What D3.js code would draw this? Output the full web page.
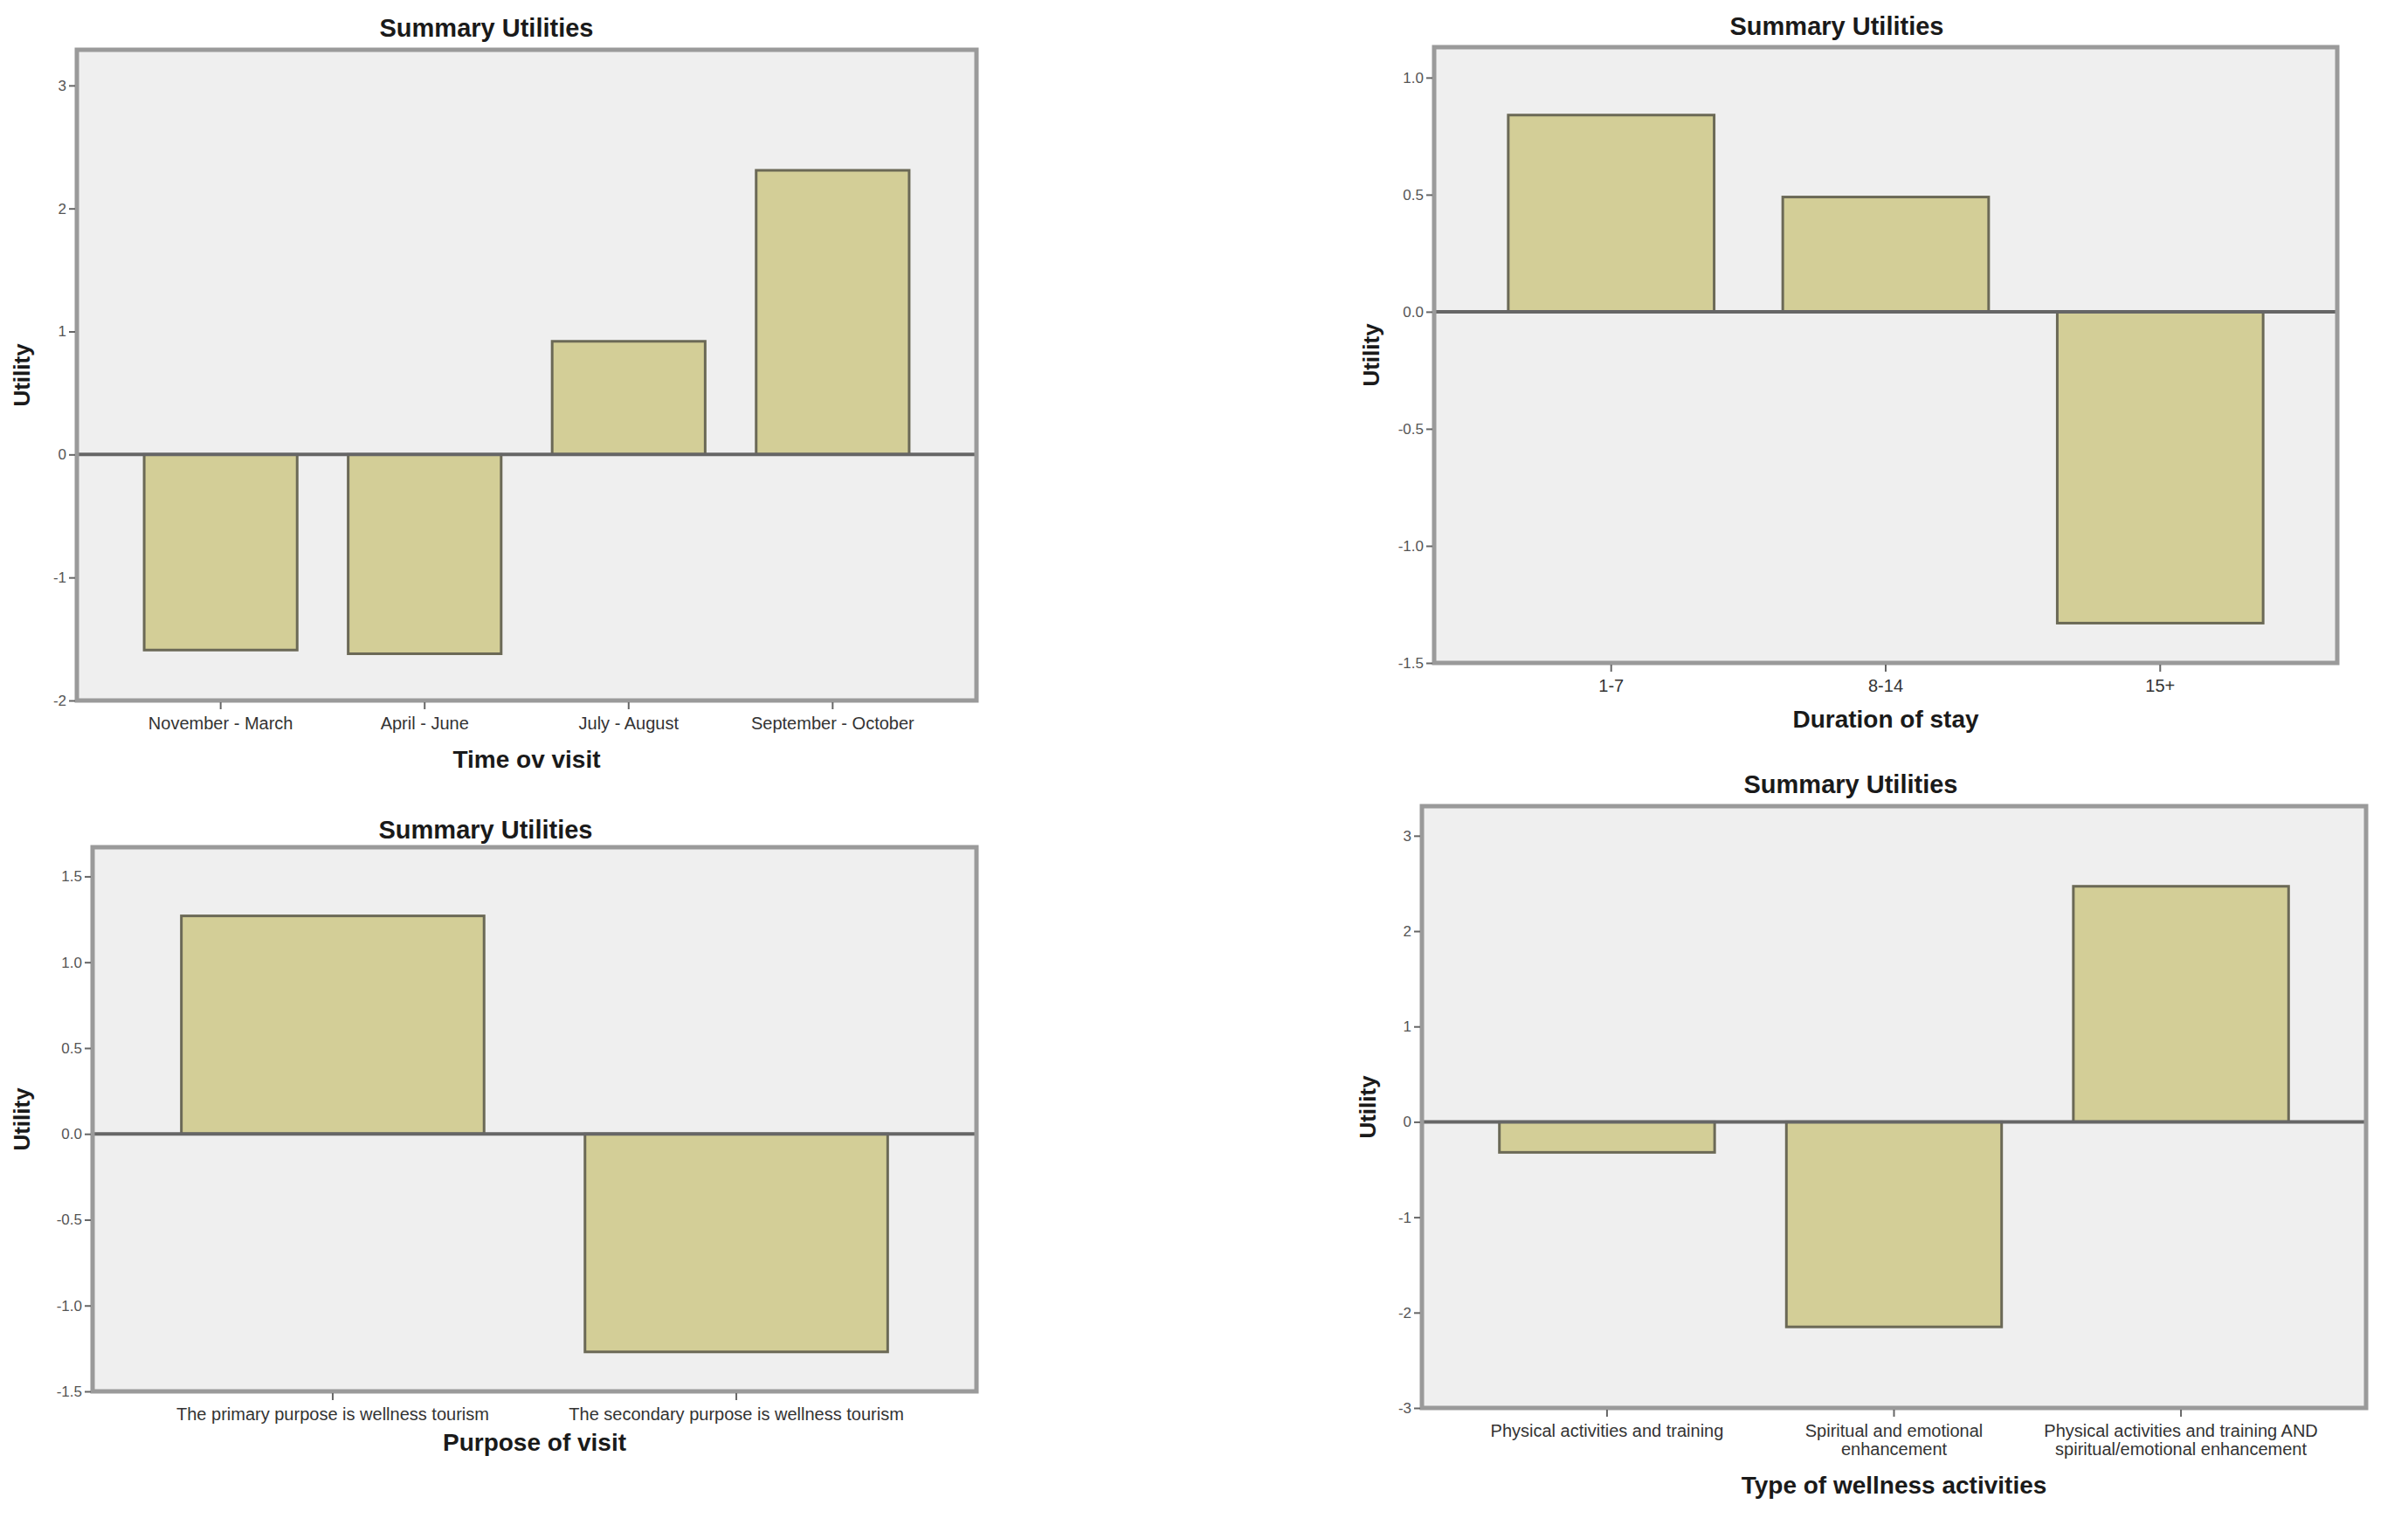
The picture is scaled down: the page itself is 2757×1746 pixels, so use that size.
<!DOCTYPE html>
<html lang="en">
<head>
    <meta charset="UTF-8">
    <title>Summary Utilities</title>
    <script src="https://d3js.org/d3.v7.min.js"></script>
    <style>
        body { margin: 0; background: #fff; }
        text { font-family: "Liberation Sans", Arial, sans-serif; }
        .title { font-size: 29px; font-weight: bold; fill: #1a1a1a; }
        .axis-title { font-size: 28px; font-weight: bold; fill: #1a1a1a; }
        .y-label { font-size: 26px; font-weight: bold; fill: #1a1a1a; }
        .y-axis text { font-size: 17px; fill: #555; }
        .x-axis text { font-size: 20px; fill: #333; }
        .tick line { stroke: #666; stroke-width: 2; }
        .bar { fill: #d3ce97; stroke: #6b6956; stroke-width: 3; }
    </style>
</head>
<body>
    <svg id="chart" width="2757" height="1746"></svg>

    <script>
        // Time of visit
        const timeCategories = ["November - March", "April - June", "July - August", "September - October"];
        const timeValues = [-1.59, -1.62, 0.92, 2.31];
        const timeTicks = [3, 2, 1, 0, -1, -2];

        // Duration of stay
        const durationCategories = ["1-7", "8-14", "15+"];
        const durationValues = [0.84, 0.49, -1.33];
        const durationTicks = [1.0, 0.5, 0.0, -0.5, -1.0, -1.5];

        // Purpose of visit
        const purposeCategories = ["The primary purpose is wellness tourism", "The secondary purpose is wellness tourism"];
        const purposeValues = [1.27, -1.27];
        const purposeTicks = [1.5, 1.0, 0.5, 0.0, -0.5, -1.0, -1.5];

        // Type of wellness activities
        const wellnessCategories = [
            "Physical activities and training",
            "Spiritual and emotional\nenhancement",
            "Physical activities and training AND\nspiritual/emotional enhancement"
        ];
        const wellnessValues = [-0.32, -2.15, 2.47];
        const wellnessTicks = [3, 2, 1, 0, -1, -2, -3];

        const svg = d3.select("#chart");

        // panel layout (pixels) + y range for each chart
        const panels = [
            { cats: timeCategories, vals: timeValues, ticks: timeTicks, fmt: d3.format("d"),
              xTitle: "Time ov visit", yMin: -2, yMax: 3.29, xTitleOff: 67,
              left: 88, right: 1118, top: 57, bottom: 802, titleX: 557, titleY: 32, yLabelX: 25, padOuter: 0.33 },
            { cats: durationCategories, vals: durationValues, ticks: durationTicks, fmt: d3.format(".1f"),
              xTitle: "Duration of stay", yMin: -1.5, yMax: 1.13, xTitleOff: 64,
              left: 1642, right: 2676, top: 54, bottom: 759, titleX: 2103, titleY: 30, yLabelX: 1570, padOuter: 0.27 },
            { cats: purposeCategories, vals: purposeValues, ticks: purposeTicks, fmt: d3.format(".1f"),
              xTitle: "Purpose of visit", yMin: -1.5, yMax: 1.67, xTitleOff: 58,
              left: 106, right: 1118, top: 970, bottom: 1593, titleX: 556, titleY: 950, yLabelX: 25, padOuter: 0.22 },
            { cats: wellnessCategories, vals: wellnessValues, ticks: wellnessTicks, fmt: d3.format("d"),
              xTitle: "Type of wellness activities", yMin: -3, yMax: 3.31, xTitleOff: 88,
              left: 1628, right: 2709, top: 923, bottom: 1612, titleX: 2119, titleY: 898, yLabelX: 1566, padOuter: 0.27 }
        ];

        panels.forEach(p => {
            const g = svg.append("g");

            const x = d3.scaleBand()
                .domain(p.cats)
                .range([p.left, p.right])
                .paddingInner(0.25)
                .paddingOuter(p.padOuter);

            const y = d3.scaleLinear()
                .domain([p.yMin, p.yMax])
                .range([p.bottom, p.top]);

            // plot background
            g.append("rect")
                .attr("x", p.left).attr("y", p.top)
                .attr("width", p.right - p.left).attr("height", p.bottom - p.top)
                .attr("fill", "#efefef");

            // bars
            g.selectAll(".bar")
                .data(p.cats.map((c, i) => ({ cat: c, val: p.vals[i] })))
                .enter().append("rect")
                .attr("class", "bar")
                .attr("x", d => x(d.cat))
                .attr("width", x.bandwidth())
                .attr("y", d => y(Math.max(0, d.val)))
                .attr("height", d => Math.abs(y(d.val) - y(0)));

            // zero reference line
            g.append("line")
                .attr("x1", p.left).attr("x2", p.right)
                .attr("y1", y(0)).attr("y2", y(0))
                .attr("stroke", "#666").attr("stroke-width", 4);

            // frame
            g.append("rect")
                .attr("x", p.left).attr("y", p.top)
                .attr("width", p.right - p.left).attr("height", p.bottom - p.top)
                .attr("fill", "none").attr("stroke", "#9a9a9a").attr("stroke-width", 5);

            // y axis (plain hyphen for negatives, like the original)
            g.append("g")
                .attr("class", "y-axis")
                .attr("transform", "translate(" + (p.left - 2) + ",0)")
                .call(d3.axisLeft(y).tickValues(p.ticks)
                    .tickFormat(d => p.fmt(d).replace("\u2212", "-"))
                    .tickSize(7).tickSizeOuter(0).tickPadding(3))
                .call(a => a.select(".domain").remove());

            // x axis
            const xAxis = g.append("g")
                .attr("class", "x-axis")
                .attr("transform", "translate(0," + (p.bottom + 2) + ")")
                .call(d3.axisBottom(x).tickSize(8).tickSizeOuter(0).tickPadding(9))
                .call(a => a.select(".domain").remove());

            xAxis.selectAll(".tick text").each(function(d) {
                const t = d3.select(this);
                const lines = d.split("\n");
                if (lines.length > 1) {
                    t.text(null);
                    lines.forEach((ln, i) => {
                        t.append("tspan").attr("x", 0).attr("dy", i === 0 ? "0.71em" : "1.05em").text(ln);
                    });
                    t.attr("dy", null);
                }
            });

            // titles
            g.append("text")
                .attr("class", "title")
                .attr("x", p.titleX).attr("y", p.titleY)
                .attr("text-anchor", "middle")
                .attr("dominant-baseline", "central")
                .text("Summary Utilities");

            g.append("text")
                .attr("class", "axis-title")
                .attr("x", (p.left + p.right) / 2)
                .attr("y", p.bottom + p.xTitleOff)
                .attr("text-anchor", "middle")
                .attr("dominant-baseline", "central")
                .text(p.xTitle);

            g.append("text")
                .attr("class", "y-label")
                .attr("transform", "translate(" + p.yLabelX + "," + (p.top + p.bottom) / 2 + ") rotate(-90)")
                .attr("text-anchor", "middle")
                .attr("dominant-baseline", "central")
                .text("Utility");
        });
    </script>
</body>
</html>
